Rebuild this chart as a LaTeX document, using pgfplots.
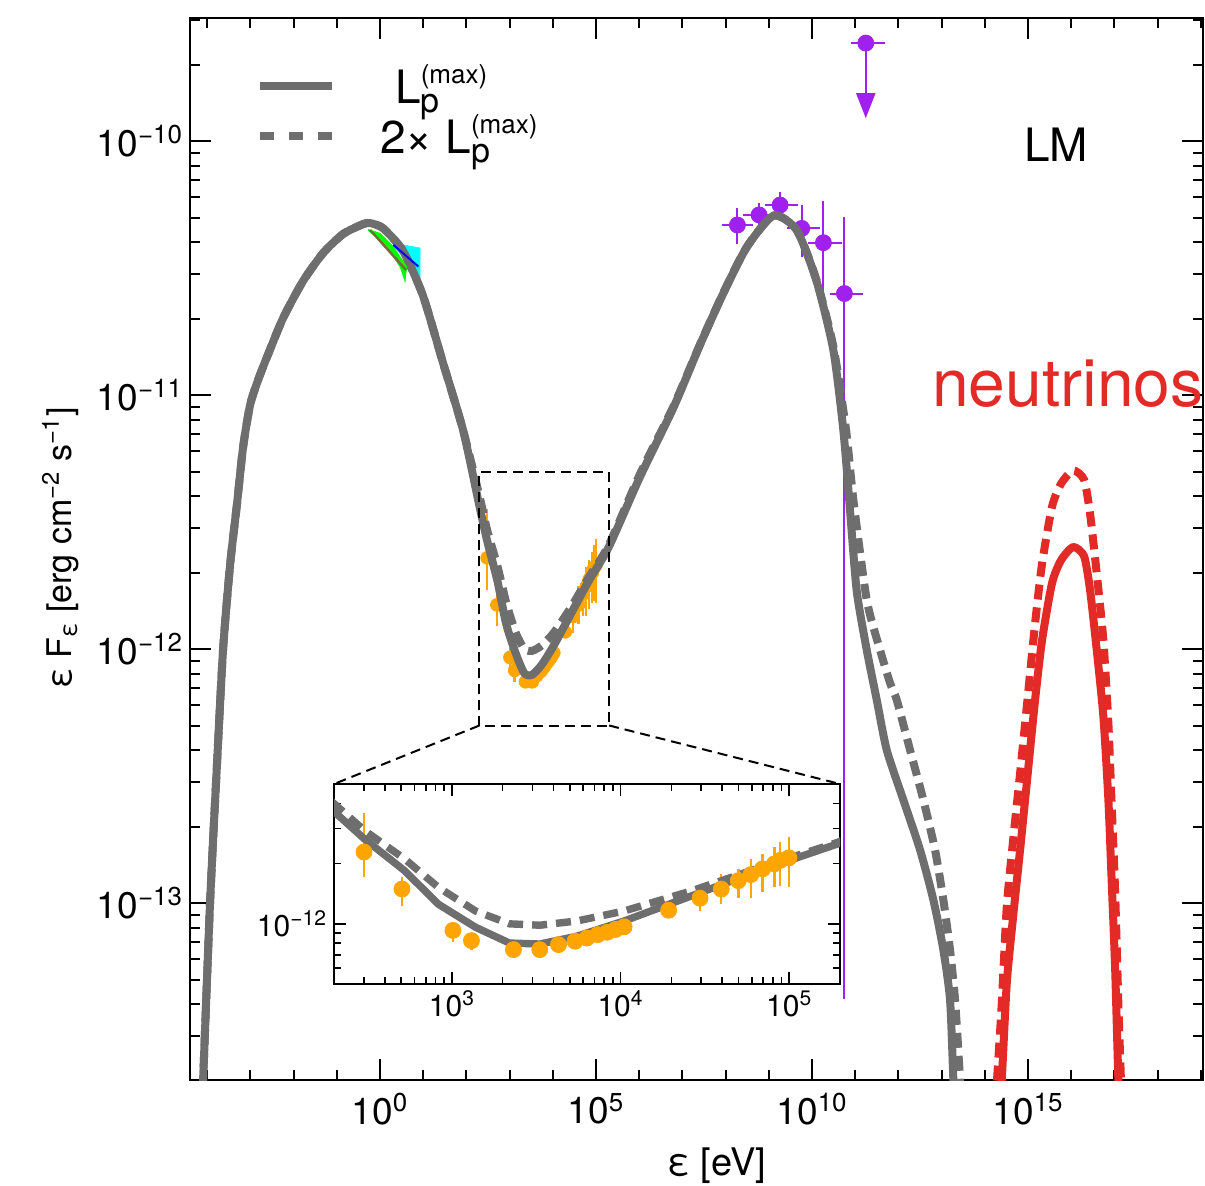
\documentclass[border=0pt]{standalone}
\usepackage{fontspec}
\setmainfont{TeX Gyre Heros}
\usepackage{pgfplots}
\pgfplotsset{compat=1.18}
\usepackage{pgfplotstable}
\usetikzlibrary{arrows.meta,calc}

\definecolor{cgray}{RGB}{110,110,110}
\definecolor{cred}{RGB}{226,42,38}
\definecolor{cpurple}{RGB}{160,32,240}
\definecolor{corange}{RGB}{255,165,0}
\definecolor{colive}{RGB}{120,105,60}
\definecolor{ccyan}{RGB}{0,255,255}
\definecolor{cgreen}{RGB}{0,255,0}
\definecolor{cblue}{RGB}{0,0,255}

\pgfplotstableread{
x y
6.31e-5 7.94e-15
8.0e-5 2.01e-14
1.161e-4 1.009e-13
1.687e-4 3.589e-13
2.323e-4 1.0e-12
3.373e-4 2.143e-12
4.898e-4 3.758e-12
6.745e-4 6.237e-12
9.795e-4 9.141e-12
1.5e-3 1.146e-11
2.421e-3 1.413e-11
5.689e-3 2.009e-11
1.652e-2 2.812e-11
4.797e-2 3.622e-11
1.393e-1 4.305e-11
4.036e-1 4.710e-11
5.875e-1 4.753e-11
1.172 4.539e-11
3.404 3.690e-11
9.886 2.455e-11
28.71 1.337e-11
83.37 7.278e-12
200.9 3.631e-12
301.3 2.667e-12
523.6 1.845e-12
831.8 1.253e-12
1380 9.616e-13
2193 8.017e-13
3319 7.925e-13
5508 8.670e-13
10495 1.033e-12
26363 1.380e-12
66374 1.845e-12
1.959e5 2.518e-12
1.045e6 4.775e-12
6.166e6 8.913e-12
2.553e7 1.578e-11
8.851e7 2.518e-11
3.076e8 3.819e-11
1.274e9 5.082e-11
4.416e9 4.457e-11
1.282e10 2.793e-11
3.119e10 1.496e-11
5.309e10 7.228e-12
7.586e10 3.491e-12
1.081e11 1.690e-12
1.845e11 9.908e-13
3.148e11 6.295e-13
5.358e11 3.999e-13
1.297e12 2.547e-13
3.162e12 1.618e-13
6.427e12 1.028e-13
1.094e13 6.531e-14
1.563e13 4.150e-14
1.866e13 2.01e-14
2.042e13 1.413e-14
}\graysolid

\pgfplotstableread{
x y
6.31e-5 7.94e-15
8.0e-5 2.01e-14
1.161e-4 1.009e-13
1.687e-4 3.589e-13
2.323e-4 1.0e-12
3.373e-4 2.143e-12
4.898e-4 3.758e-12
6.745e-4 6.237e-12
9.795e-4 9.141e-12
1.5e-3 1.146e-11
2.421e-3 1.413e-11
5.689e-3 2.009e-11
1.652e-2 2.812e-11
4.797e-2 3.622e-11
1.393e-1 4.305e-11
4.036e-1 4.710e-11
5.875e-1 4.753e-11
1.172 4.539e-11
3.404 3.690e-11
9.886 2.455e-11
28.71 1.337e-11
83.37 7.278e-12
200.9 3.981e-12
301.3 2.938e-12
523.6 2.113e-12
831.8 1.521e-12
1380 1.159e-12
2193 1.0e-12
3319 9.840e-13
5508 1.033e-12
10495 1.159e-12
26363 1.462e-12
66374 1.905e-12
1.959e5 2.564e-12
1.045e6 4.898e-12
6.166e6 9.016e-12
2.553e7 1.585e-11
8.851e7 2.529e-11
3.076e8 3.828e-11
1.274e9 5.093e-11
4.416e9 4.467e-11
1.282e10 2.818e-11
3.119e10 1.549e-11
6.124e10 7.278e-12
9.036e10 3.864e-12
1.845e11 1.560e-12
3.750e11 9.908e-13
6.397e11 7.345e-13
9.141e11 6.295e-13
1.858e12 3.999e-13
3.767e12 2.547e-13
7.031e12 1.618e-13
1.094e13 1.028e-13
1.563e13 6.531e-14
2.042e13 4.150e-14
2.667e13 2.01e-14
2.951e13 1.413e-14
}\graydashed

\pgfplotstableread{
x y
1.905e14 1.0e-14
2.460e14 2.01e-14
3.214e14 4.842e-14
4.498e14 8.810e-14
6.531e14 1.618e-13
9.333e14 2.965e-13
1.452e15 6.295e-13
2.109e15 1.084e-12
3.594e15 1.820e-12
5.808e15 2.239e-12
1.101e16 2.523e-12
1.977e16 2.323e-12
2.723e16 1.706e-12
3.890e16 9.908e-13
5.534e16 5.420e-13
7.228e16 2.547e-13
8.650e16 1.199e-13
1.033e17 5.610e-14
1.230e17 2.01e-14
1.413e17 1.0e-14
}\redsolid

\pgfplotstableread{
x y
1.905e14 2.0e-14
2.460e14 4.02e-14
3.214e14 9.684e-14
4.498e14 1.762e-13
6.531e14 3.236e-13
9.333e14 5.930e-13
1.452e15 1.259e-12
2.109e15 2.168e-12
3.594e15 3.640e-12
5.808e15 4.478e-12
1.101e16 5.046e-12
1.977e16 4.646e-12
2.723e16 3.412e-12
3.890e16 1.982e-12
5.534e16 1.084e-12
7.228e16 5.094e-13
8.650e16 2.398e-13
1.033e17 1.122e-13
1.230e17 4.02e-14
1.413e17 2.0e-14
}\reddashed

\pgfplotstableread{
x y yp ym
301.3 2.286e-12 1.287e-12 0.580e-12
505.8 1.493e-12 0.213e-12 0.266e-12
1014 9.268e-13 0.85e-13 1.16e-13
1306 8.241e-13 0.775e-13 0.811e-13
2317 7.430e-13 0 0
3319 7.430e-13 0 0
4285 7.870e-13 0 0
5370 8.185e-13 0 0
6310 8.492e-13 0 0
7328 8.831e-13 0 0
8337 9.078e-13 0 0
9354 9.376e-13 0 0
10495 9.661e-13 0 0
19275 1.169e-12 0.05e-12 0.05e-12
29580 1.343e-12 0.206e-12 0.184e-12
39537 1.493e-12 0.281e-12 0.240e-12
49888 1.644e-12 0.240e-12 0.292e-12
59156 1.762e-12 0.351e-12 0.410e-12
69502 1.884e-12 0.355e-12 0.449e-12
81658 1.995e-12 0.426e-12 0.474e-12
88308 2.075e-12 0.489e-12 0.523e-12
99540 2.138e-12 0.578e-12 0.617e-12
}\orangedata

\pgfplotstableread{
x y xp xm yp ym
1.87e8 4.67e-11 2.50e8 1.057e8 0.76e-11 0.72e-11
5.93e8 5.12e-11 7.87e8 3.36e8 0.57e-11 0.65e-11
1.82e9 5.60e-11 2.97e9 1.007e9 0.71e-11 0.48e-11
5.77e9 4.53e-11 9.53e9 3.18e9 1.07e-11 1.02e-11
1.83e10 3.98e-11 3.03e10 1.01e10 1.83e-11 1.64e-11
5.60e10 2.51e-11 9.8e10 2.99e10 2.53e-11 2.5058e-11
1.75e11 2.43e-10 3.15e11 9.56e10 0 0
}\purpledata

\newcommand{\tfont}{\fontsize{18.5}{21}\selectfont}
\newcommand{\Lpmax}{L\rlap{\raisebox{10pt}{\fontsize{13}{13}\selectfont(max)}}\raisebox{-4.4pt}{\fontsize{17}{17}\selectfont p}}

\begin{document}
\begin{tikzpicture}
\begin{axis}[
  name=main,
  scale only axis, width=506.5pt, height=531pt,
  xmode=log, ymode=log,
  xmin=3.98e-5, xmax=1.12e19, ymin=2.01e-14, ymax=3.05e-10,
  xtick={1,1e5,1e10,1e15},
  xticklabels={10\textsuperscript{0},10\textsuperscript{5},10\textsuperscript{10},10\textsuperscript{15}},
  minor xtick={1e-4,1e-3,1e-2,1e-1,1e1,1e2,1e3,1e4,1e6,1e7,1e8,1e9,1e11,1e12,1e13,1e14,1e16,1e17,1e18,1e19},
  ytick={1e-13,1e-12,1e-11,1e-10},
  yticklabels={10\textsuperscript{−13},10\textsuperscript{−12},10\textsuperscript{−11},10\textsuperscript{−10}},
  minor ytick={3e-14,4e-14,5e-14,6e-14,7e-14,8e-14,9e-14,2e-13,3e-13,4e-13,5e-13,6e-13,7e-13,8e-13,9e-13,2e-12,3e-12,4e-12,5e-12,6e-12,7e-12,8e-12,9e-12,2e-11,3e-11,4e-11,5e-11,6e-11,7e-11,8e-11,9e-11,2e-10,3e-10},
  tick pos=both, tick align=inside,
  major tick length=10.5pt, minor tick length=5.2pt,
  tick style={black, line width=1pt},
  axis line style={line width=1.3pt},
  tick label style={font=\tfont},
  xticklabel style={yshift=-3pt},
  xlabel={ε [eV]},
  ylabel={ε F\textsubscript{ε} [erg cm\textsuperscript{−2} s\textsuperscript{−1}]},
  x label style={font=\fontsize{19}{22}\selectfont, at={(axis description cs:0.52,-0.081)}, anchor=center},
  y label style={font=\fontsize{17}{20}\selectfont, at={(axis description cs:-0.128,0.501)}, anchor=center},
  clip mode=individual,
  legend style={draw=none, fill=none, inner sep=0pt, at={(axis description cs:0.065,0.96)}, anchor=north west,
    font=\fontsize{23}{27}\selectfont, row sep=0pt,
    /tikz/every odd column/.append style={column sep=20pt}},
  legend cell align=left,
  legend image code/.code={\draw[#1] (0pt,0pt) -- (36pt,0pt);},
]
\addlegendimage{cgray, line width=4pt}
\addlegendentry{\hspace*{7.5pt}\Lpmax}
\addlegendimage{cgray, line width=4pt, dash pattern=on 7pt off 7.5pt}
\addlegendentry{2× \Lpmax}

% X-ray data
\addplot[forget plot, only marks, mark=*, mark size=3.2pt, corange,
  error bars/.cd, y dir=both, y explicit, error mark=none, error bar style={line width=1.2pt}]
  table[x=x, y=y, y error plus=yp, y error minus=ym] {\orangedata};
% gamma-ray data
\addplot[forget plot, only marks, mark=*, mark size=4pt, cpurple,
  error bars/.cd, x dir=both, x explicit, y dir=both, y explicit, error mark=none, error bar style={line width=1pt}]
  table[x=x, y=y, x error plus=xp, x error minus=xm, y error plus=yp, y error minus=ym] {\purpledata};
\addplot[forget plot, only marks, mark=none, cpurple,
  error bars/.cd, y dir=minus, y explicit, error mark=none,
  error bar style={line width=1pt, -{Triangle[width=9.5pt,length=12.5pt]}}]
  coordinates {(1.75e11,2.43e-10) -= (0,1.2e-10)};
% optical (cyan)
\addplot[forget plot, fill=ccyan, draw=ccyan, line width=0.3pt] coordinates {(2.0,3.963e-11) (8.433,3.793e-11) (8.433,2.917e-11) (6.124,3.162e-11) (2.0,3.864e-11)} -- cycle;

% model curves
\addplot[forget plot, cgray, line width=4pt, line join=round, smooth, tension=0.4] table {\graysolid};
\addplot[forget plot, cgray, line width=4pt, line join=round, smooth, tension=0.4, dash pattern=on 7.5pt off 4pt] table {\graydashed};
\addplot[forget plot, cred, line width=4pt, line join=round, smooth, tension=0.4] table {\redsolid};
\addplot[forget plot, cred, line width=4pt, line join=round, smooth, tension=0.4, dash pattern=on 7.5pt off 4pt] table {\reddashed};

% optical (green, blue, olive)
\addplot[forget plot, fill=cgreen, draw=cgreen, line width=0.3pt] coordinates {(0.5358,4.487e-11) (1.0,4.335e-11) (2.032,3.837e-11) (4.150,3.199e-11) (3.793,2.793e-11) (2.904,3.199e-11) (1.429,3.837e-11) (0.5358,4.446e-11)} -- cycle;
\addplot[forget plot, cblue, line width=1pt] coordinates {(2.032,3.899e-11) (7.709,3.206e-11)};
\addplot[forget plot, colive, line width=1.2pt] coordinates {(0.5875,4.467e-11) (3.999,3.105e-11)};

\draw[black, line width=1pt, dash pattern=on 5pt off 3pt] (axis cs:200,5e-13) rectangle (axis cs:2e5,5e-12);
\coordinate (rbl) at (axis cs:200,5e-13);
\coordinate (rbr) at (axis cs:2e5,5e-13);

\node[font=\fontsize{23}{27}\selectfont] at (axis cs:4.45e15,9.64e-11) {LM};
\node[font=\fontsize{33}{38}\selectfont, text=cred, anchor=base west, inner sep=0pt] at (axis cs:5.9e12,8.98e-12) {neutrinos};
\end{axis}

\begin{axis}[
  name=inset,
  at={($(main.south west)+(72pt,48pt)$)}, anchor=south west,
  scale only axis, width=253pt, height=100pt,
  xmode=log, ymode=log,
  xmin=200, xmax=2e5, ymin=5e-13, ymax=5e-12,
  xtick={1e3,1e4,1e5},
  xticklabels={10\textsuperscript{3},10\textsuperscript{4},10\textsuperscript{5}},
  minor xtick={300,400,500,600,700,800,900,2000,3000,4000,5000,6000,7000,8000,9000,20000,30000,40000,50000,60000,70000,80000,90000},
  ytick={1e-12},
  yticklabels={10\textsuperscript{−12}},
  minor ytick={6e-13,7e-13,8e-13,9e-13,2e-12,3e-12,4e-12},
  tick pos=both, tick align=inside,
  major tick length=6pt, minor tick length=3.5pt,
  tick style={black, line width=0.8pt},
  axis line style={line width=1.2pt},
  tick label style={font=\fontsize{15}{17}\selectfont},
  axis background/.style={fill=white},
]
\addplot[only marks, mark=*, mark size=4pt, corange,
  error bars/.cd, y dir=both, y explicit, error mark=none, error bar style={line width=1.2pt}]
  table[x=x, y=y, y error plus=yp, y error minus=ym] {\orangedata};
\addplot[cgray, line width=3.7pt, line join=round] table {\graysolid};
\addplot[cgray, line width=3.7pt, line join=round, dash pattern=on 7.5pt off 4.5pt] table {\graydashed};
\end{axis}

\draw[black, line width=1pt, dash pattern=on 5pt off 3pt] (rbl) -- (inset.north west);
\draw[black, line width=1pt, dash pattern=on 5pt off 3pt] (rbr) -- (inset.north east);

\pgfresetboundingbox
\path[use as bounding box] ($(main.south west)+(-95pt,-52.5pt)$) rectangle ($(main.north east)+(1pt,9pt)$);
\end{tikzpicture}
\end{document}
